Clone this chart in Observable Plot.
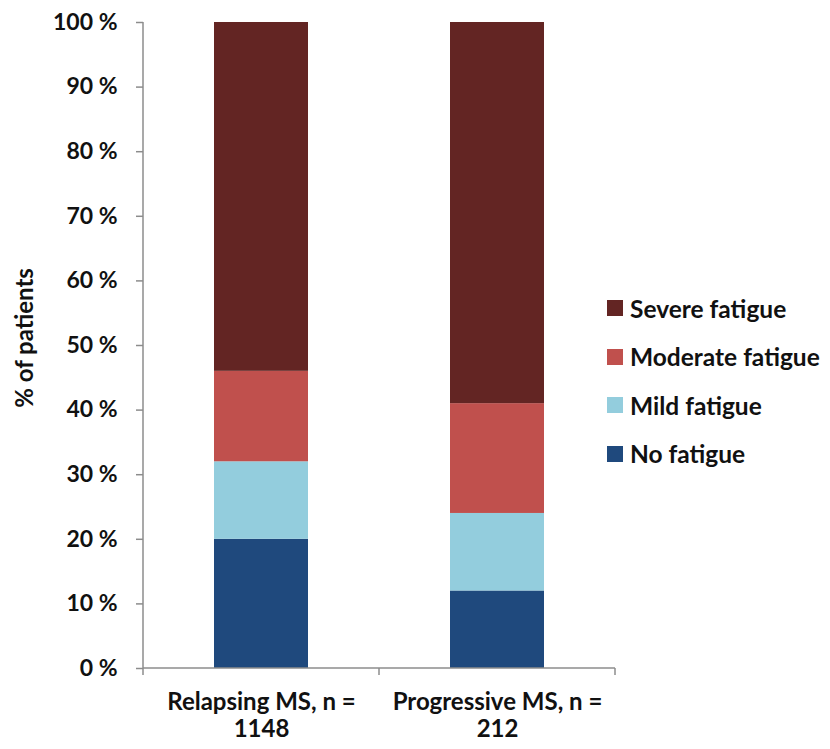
<!DOCTYPE html>
<html>
<head>
<meta charset="utf-8">
<script src="https://cdn.jsdelivr.net/npm/d3@7"></script>
<script src="https://cdn.jsdelivr.net/npm/@observablehq/plot@0.6"></script>
<style>
  body { margin: 0; background: #fff; }
  #chart { position: relative; width: 830px; height: 749px; font-family: Lato, "Open Sans", sans-serif; font-weight: 700; color: #111; }
  #chart svg { font-family: Lato, "Open Sans", sans-serif; font-weight: 700; }
  .legend { position: absolute; left: 607px; top: 284px; }
  .legend .row { display: flex; align-items: center; height: 48.5px; font-size: 24.5px; white-space: nowrap; }
  .legend .sw { width: 16px; height: 16px; margin-right: 7px; }
</style>
</head>
<body>
<div id="chart"></div>
<script>
// Patient groups (x categories) and fatigue levels, bottom to top in the stack
const groups = ["Relapsing MS, n =\n1148", "Progressive MS, n =\n212"];
const levels = ["No fatigue", "Mild fatigue", "Moderate fatigue", "Severe fatigue"];
const levelColors = ["#1f497d", "#93cddd", "#c0504d", "#632523"];

// Share of patients (%) per level, in the order of `levels`
const relapsing = [20, 12, 14, 54];
const progressive = [12, 12, 17, 59];

const yTicks = [0, 10, 20, 30, 40, 50, 60, 70, 80, 90, 100];
const yLabel = "% of patients";

const rows = [];
[relapsing, progressive].forEach((vals, gi) => {
  vals.forEach((v, li) => rows.push({group: groups[gi], level: levels[li], value: v}));
});

const axisGray = "#8c8c8c";

// Axis lines, category-boundary ticks on the x axis and the rotated y title
function axesFrame(index, {y}, values, dims) {
  const g = d3.create("svg:g");
  const left = dims.marginLeft, right = dims.width - dims.marginRight;
  // outer padding is half the inner padding, so band boundaries split the frame evenly
  const step = (right - left) / groups.length;
  const bounds = d3.range(groups.length + 1).map(i => left + i * step);
  const y0 = y(0), y1 = y(100);
  g.append("line").attr("x1", left).attr("x2", left).attr("y1", y1).attr("y2", y0)
    .attr("stroke", axisGray).attr("stroke-width", 1.5);
  g.append("line").attr("x1", left).attr("x2", right).attr("y1", y0).attr("y2", y0)
    .attr("stroke", axisGray).attr("stroke-width", 1.5);
  for (const b of bounds.filter(Number.isFinite)) {
    g.append("line").attr("x1", b).attr("x2", b).attr("y1", y0).attr("y2", y0 + 7)
      .attr("stroke", axisGray).attr("stroke-width", 1.5);
  }
  g.append("text")
    .attr("x", 0).attr("y", 0)
    .attr("transform", "translate(25,338) rotate(-90)")
    .attr("text-anchor", "middle").attr("dy", "0.35em")
    .attr("font-size", 24).attr("font-weight", 700).attr("fill", "#111")
    .text(yLabel);
  return g.node();
}

const plot = Plot.plot({
  width: 830,
  height: 749,
  marginTop: 22,
  marginBottom: 81,
  marginLeft: 143,
  marginRight: 215,
  style: {fontSize: "23px", background: "#fff"},
  x: {domain: groups, paddingInner: 0.6, paddingOuter: 0.3, label: null},
  y: {domain: [0, 100], label: null},
  color: {domain: levels, range: levelColors},
  marks: [
    Plot.barY(rows, {x: "group", y: "value", fill: "level", order: levels}),
    Plot.axisY({ticks: yTicks, tickSize: 7, tickPadding: 19, tickFormat: d => d + " %",
      stroke: axisGray, strokeWidth: 1.5, fill: "#111", fontSize: 23, label: null}),
    Plot.axisX({tickSize: 0, tickPadding: 23, lineHeight: 1.1, fill: "#111", fontSize: 24, label: null}),
    axesFrame
  ]
});

const chart = document.getElementById("chart");
chart.appendChild(plot);

// Legend, top entry = top of the stack
const legend = document.createElement("div");
legend.className = "legend";
for (let i = levels.length - 1; i >= 0; i--) {
  const row = document.createElement("div");
  row.className = "row";
  const sw = document.createElement("span");
  sw.className = "sw";
  sw.style.background = levelColors[i];
  const label = document.createElement("span");
  label.textContent = levels[i];
  row.append(sw, label);
  legend.appendChild(row);
}
chart.appendChild(legend);
</script>
</body>
</html>
